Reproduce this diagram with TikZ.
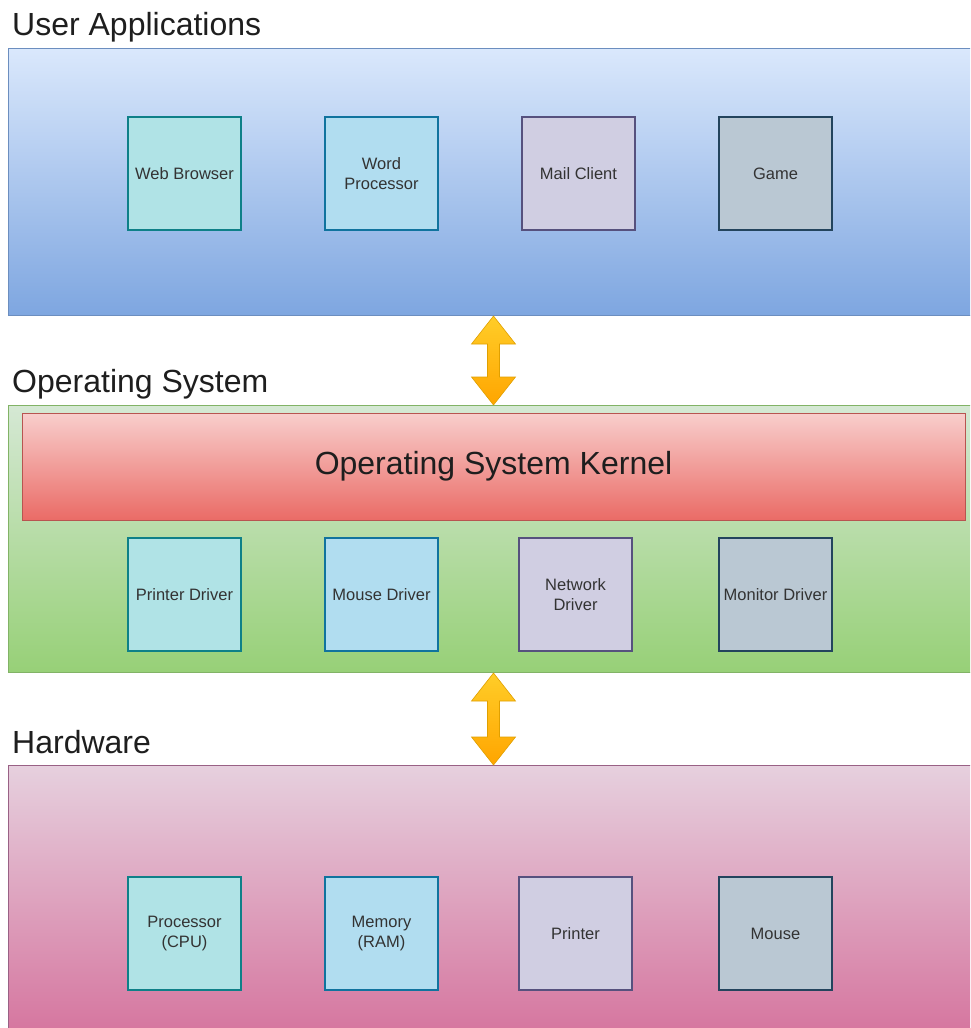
\documentclass[tikz,border=0pt]{standalone}
\usepackage{fontspec}
\setmainfont{Liberation Sans}
\usetikzlibrary{calc}

% palette
\definecolor{appsTop}{HTML}{DAE8FC}
\definecolor{appsBot}{HTML}{7EA6E0}
\definecolor{appsLine}{HTML}{6C8EBF}
\definecolor{osTop}{HTML}{D5E8D4}
\definecolor{osBot}{HTML}{97D077}
\definecolor{osLine}{HTML}{82B366}
\definecolor{hwTop}{HTML}{E6D0DE}
\definecolor{hwBot}{HTML}{D5739D}
\definecolor{hwLine}{HTML}{996185}
\definecolor{kernTop}{HTML}{F8CECC}
\definecolor{kernBot}{HTML}{EA6B66}
\definecolor{kernLine}{HTML}{B85450}
\definecolor{tealFill}{HTML}{B0E3E6}
\definecolor{tealLine}{HTML}{0E8088}
\definecolor{blueFill}{HTML}{B1DDF0}
\definecolor{blueLine}{HTML}{10739E}
\definecolor{lilacFill}{HTML}{D0CEE2}
\definecolor{lilacLine}{HTML}{56517E}
\definecolor{slateFill}{HTML}{BAC8D3}
\definecolor{slateLine}{HTML}{23445D}
\definecolor{arrowTop}{HTML}{FFCD28}
\definecolor{arrowBot}{HTML}{FFA500}
\definecolor{arrowLine}{HTML}{E0A000}
\definecolor{boxText}{HTML}{333333}
\definecolor{headText}{HTML}{1E1E1E}

% double-headed block arrow between two points on one vertical line
\newcommand\dualarrow[2]{%
  \path[blockarrow] let \p1=(#1), \p2=(#2) in
    (\x1,\y1) -- (\x1+22pt,\y1-28pt) -- (\x1+6pt,\y1-28pt)
    -- (\x1+6pt,\y2+28pt) -- (\x1+22pt,\y2+28pt) -- (\x2,\y2)
    -- (\x1-22pt,\y2+28pt) -- (\x1-6pt,\y2+28pt)
    -- (\x1-6pt,\y1-28pt) -- (\x1-22pt,\y1-28pt) -- cycle;}

\begin{document}
\begin{tikzpicture}[x=1pt,y=-1pt,
  panel/.style={draw, line width=1pt, minimum width=980pt, minimum height=267pt,
    anchor=north west, inner sep=0pt},
  heading/.style={anchor=base west, inner sep=0pt, text=headText,
    font=\fontsize{32}{38}\selectfont},
  unit/.style={draw, line width=1.2pt, minimum width=113pt, minimum height=113pt,
    inner sep=0pt, align=center, text=boxText, font=\fontsize{16.5}{19.8}\selectfont},
  teal/.style={fill=tealFill, draw=tealLine},
  sky/.style={fill=blueFill, draw=blueLine},
  lilac/.style={fill=lilacFill, draw=lilacLine},
  slate/.style={fill=slateFill, draw=slateLine},
  blockarrow/.style={top color=arrowTop, bottom color=arrowBot, draw=arrowLine,
    line width=0.6pt, line join=miter}
]
\useasboundingbox (0,0) rectangle (970,1028);
\clip (0,0) rectangle (970,1028);

% layer panels
\node[panel, top color=appsTop, bottom color=appsBot, draw=appsLine] (apps) at (8,48) {};
\node[panel, top color=osTop, bottom color=osBot, draw=osLine] (os) at (8,405) {};
\node[panel, top color=hwTop, bottom color=hwBot, draw=hwLine, minimum height=275pt] (hw) at (8,765) {};

% layer headings
\node[heading] (appsTitle) at (12,35) {User Applications};
\node[heading] (osTitle) at (12,392) {Operating System};
\node[heading] (hwTitle) at (12,753) {Hardware};

% applications
\node[unit, teal]  (web)  at (184.5,173.5) {Web Browser};
\node[unit, sky]   (word) at (381.5,173.5) {Word\\Processor};
\node[unit, lilac] (mail) at (578.5,173.5) {Mail Client};
\node[unit, slate] (game) at (775.5,173.5) {Game};

% kernel
\node[draw=kernLine, line width=1pt, top color=kernTop, bottom color=kernBot,
  minimum width=943pt, minimum height=107pt, inner sep=0pt, text=headText,
  font=\fontsize{32}{38}\selectfont] (kern) at (493.5,466.5) {Operating System Kernel};

% drivers
\node[unit, teal]  (prnDrv) at (184.5,594.5) {Printer Driver};
\node[unit, sky]   (mseDrv) at (381.5,594.5) {Mouse Driver};
\node[unit, lilac] (netDrv) at (575.5,594.5) {Network\\Driver};
\node[unit, slate] (monDrv) at (775.5,594.5) {Monitor Driver};

% hardware
\node[unit, teal]  (cpu) at (184.5,933.5) {Processor\\(CPU)};
\node[unit, sky]   (ram) at (381.5,933.5) {Memory\\(RAM)};
\node[unit, lilac] (prn) at (575.5,933.5) {Printer};
\node[unit, slate] (mse) at (775.5,933.5) {Mouse};

% links between layers
\dualarrow{kern.center |- apps.south}{kern.center |- os.north}
\dualarrow{kern.center |- os.south}{kern.center |- hw.north}
\end{tikzpicture}
\end{document}
